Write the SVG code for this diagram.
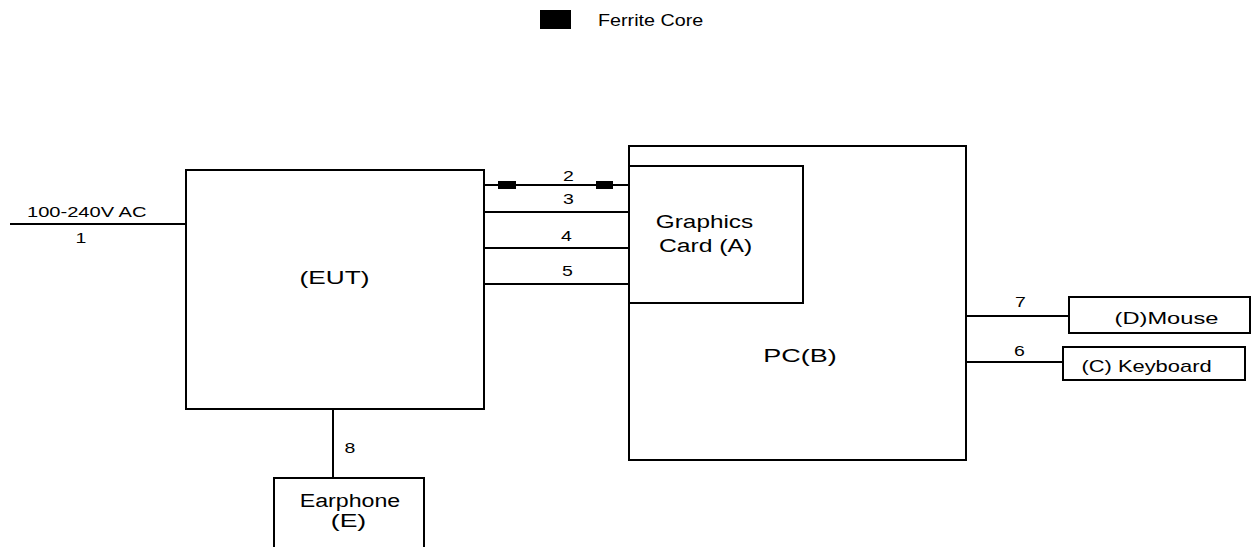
<svg xmlns="http://www.w3.org/2000/svg" width="1253" height="547" viewBox="0 0 1253 547">
<style>
.b{fill:#fff;stroke:#000;stroke-width:2}
.l{stroke:#000;stroke-width:2;fill:none}
.t{font-family:"Liberation Sans",Arial,sans-serif;fill:#000}
.n{font-size:15px;text-anchor:middle}
.m{font-size:19px;text-anchor:middle}
</style>
<rect width="1253" height="547" fill="#fff"/>
<g id="legend">
<rect x="540" y="10" width="31" height="19" fill="#000"/>
<text class="t" transform="translate(598,26) scale(1.16,1)" font-size="17">Ferrite Core</text>
</g>
<g id="connectors">
<line class="l" x1="10" y1="224" x2="186" y2="224"/>
<text class="t" transform="translate(27,217) scale(1.34,1)" font-size="15">100-240V AC</text>
<text class="t n" transform="translate(81,243) scale(1.3,1)">1</text>
<line class="l" x1="484" y1="185" x2="630" y2="185"/>
<rect x="498" y="181" width="18" height="8" fill="#000"/>
<rect x="596" y="181" width="17" height="8" fill="#000"/>
<text class="t n" transform="translate(568.5,181) scale(1.3,1)">2</text>
<line class="l" x1="484" y1="212" x2="630" y2="212"/>
<text class="t n" transform="translate(568.5,204) scale(1.3,1)">3</text>
<line class="l" x1="484" y1="248" x2="630" y2="248"/>
<text class="t n" transform="translate(566.5,241) scale(1.3,1)">4</text>
<line class="l" x1="484" y1="284" x2="630" y2="284"/>
<text class="t n" transform="translate(567.5,276) scale(1.3,1)">5</text>
<line class="l" x1="966" y1="316" x2="1070" y2="316"/>
<text class="t n" transform="translate(1020.5,307) scale(1.3,1)">7</text>
<line class="l" x1="966" y1="362" x2="1064" y2="362"/>
<text class="t n" transform="translate(1019.5,356) scale(1.3,1)">6</text>
<line class="l" x1="333" y1="409" x2="333" y2="478"/>
<text class="t n" transform="translate(350,453) scale(1.3,1)">8</text>
</g>
<g id="eut">
<rect class="b" x="186" y="170" width="298" height="239"/>
<text class="t m" transform="translate(334.5,284) scale(1.38,1)">(EUT)</text>
</g>
<g id="pc">
<rect class="b" x="629" y="146" width="337" height="314"/>
<text class="t m" transform="translate(800,362) scale(1.42,1)">PC(B)</text>
</g>
<g id="graphics">
<rect class="b" x="629" y="166" width="174" height="137"/>
<text class="t m" transform="translate(704.5,228) scale(1.28,1)">Graphics</text>
<text class="t m" transform="translate(705.5,252) scale(1.3,1)">Card (A)</text>
</g>
<g id="mouse">
<rect class="b" x="1069" y="297" width="181" height="36"/>
<text class="t" transform="translate(1166.5,324) scale(1.48,1)" font-size="16" text-anchor="middle">(D)Mouse</text>
</g>
<g id="keyboard">
<rect class="b" x="1063" y="347" width="182" height="33"/>
<text class="t" transform="translate(1146.5,372) scale(1.37,1)" font-size="16" text-anchor="middle">(C) Keyboard</text>
</g>
<g id="earphone">
<path class="l" d="M274 548 V478 H424 V548"/>
<text class="t m" transform="translate(350,507) scale(1.22,1)">Earphone</text>
<text class="t m" transform="translate(348.5,527) scale(1.4,1)">(E)</text>
</g>
</svg>
